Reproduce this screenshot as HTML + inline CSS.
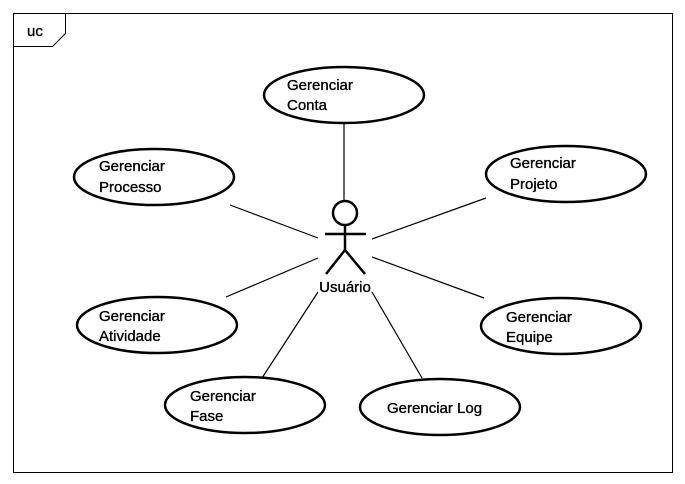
<!DOCTYPE html>
<html><head><style>
html,body{margin:0;padding:0;background:#fff;}
svg{display:block;}
text{font-family:"Liberation Sans",Arial,sans-serif;font-size:15px;fill:#000;stroke:#000;stroke-width:0.35px;}
</style></head><body>
<svg width="685" height="484" viewBox="0 0 685 484" xmlns="http://www.w3.org/2000/svg">
<rect x="13.5" y="13.5" width="659" height="459" fill="#fff" stroke="#000" stroke-width="1"/>
<polyline points="13.5,46.5 52.5,46.5 65.5,33.5 65.5,13.5" fill="none" stroke="#000"/>
<text x="27" y="36" style="font-size:15px">uc</text>
<g stroke="#000" stroke-width="1.2">
<line x1="344" y1="123" x2="344" y2="201"/>
<line x1="230" y1="205" x2="318" y2="238"/>
<line x1="372" y1="239" x2="486" y2="198"/>
<line x1="226" y1="297" x2="318" y2="258"/>
<line x1="372" y1="257" x2="484" y2="298"/>
<line x1="262" y1="378" x2="318" y2="292"/>
<line x1="372" y1="292" x2="422" y2="378"/>
</g>
<g fill="#fff" stroke="#000" stroke-width="2.5">
<ellipse cx="344" cy="95" rx="80" ry="28"/>
<ellipse cx="154" cy="177" rx="80" ry="28"/>
<ellipse cx="566" cy="174" rx="80" ry="28"/>
<ellipse cx="157" cy="325" rx="80" ry="28"/>
<ellipse cx="561" cy="326" rx="80" ry="28"/>
<ellipse cx="245" cy="405" rx="80" ry="28"/>
<ellipse cx="440" cy="407" rx="80" ry="28"/>
</g>
<g fill="none" stroke="#000" stroke-width="2.5">
<circle cx="345" cy="213" r="12"/>
<line x1="345" y1="225" x2="345" y2="250"/>
<line x1="325" y1="234" x2="366" y2="234"/>
<polyline points="326,274 345,250 365,274"/>
</g>
<text x="345" y="292" text-anchor="middle">Usuário</text>
<text x="287" y="90">Gerenciar</text><text x="287" y="110">Conta</text>
<text x="99" y="171">Gerenciar</text><text x="99" y="192">Processo</text>
<text x="510" y="168">Gerenciar</text><text x="510" y="189">Projeto</text>
<text x="99" y="321">Gerenciar</text><text x="99" y="341">Atividade</text>
<text x="506" y="322">Gerenciar</text><text x="506" y="342">Equipe</text>
<text x="190" y="401">Gerenciar</text><text x="190" y="421">Fase</text>
<text x="387" y="413">Gerenciar Log</text>
</svg>
</body></html>
